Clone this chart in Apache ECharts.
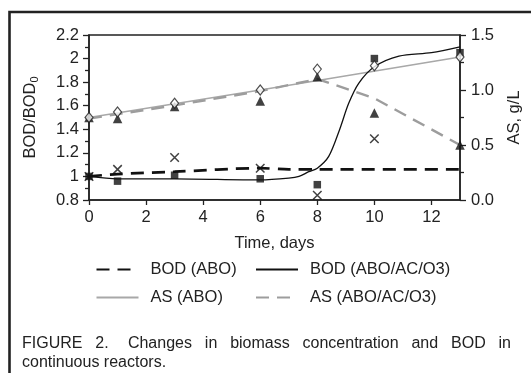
<!DOCTYPE html>
<html>
<head>
<meta charset="utf-8">
<script src="https://cdn.jsdelivr.net/npm/echarts@6/dist/echarts.min.js"></script>
<style>
html,body{margin:0;padding:0;background:#fff;}
#c{width:531px;height:373px;}
</style>
</head>
<body>
<div id="c"></div>
<script>
// ---- data ----
var markDays = [0, 1, 3, 6, 8, 10, 13];
var bodAboMarks = [1.0, 1.06, 1.16, 1.07, 0.84, 1.32, null];     // crosses
var bodAcMarks  = [1.0, 0.96, 1.01, 0.98, 0.93, 2.0, 2.05];       // squares
var asAboMarks  = [0.75, 0.80, 0.88, 1.0, 1.19, 1.22, 1.30];      // open diamonds
var asAcMarks   = [0.75, 0.74, 0.85, 0.90, 1.12, 0.79, 0.50];     // triangles

var bodAboFitDays = [0, 1, 3, 6, 7, 8, 13];
var bodAboFit     = [1.0, 1.02, 1.04, 1.07, 1.06, 1.06, 1.06];
var bodAcFitDays  = [0, 1, 3, 6, 7, 7.36, 7.7, 8, 8.4, 8.77, 9.1, 9.45, 10, 10.86, 12, 13];
var bodAcFit      = [1.0, 0.98, 0.98, 0.97, 0.985, 1.0, 1.04, 1.07, 1.17, 1.39, 1.62, 1.79, 1.93, 2.02, 2.05, 2.10];
var asAboFitDays  = [0, 6, 13];
var asAboFit      = [0.75, 1.0, 1.30];
var asAcFitDays   = [0, 3, 6, 8, 10, 13];
var asAcFit       = [0.74, 0.86, 0.99, 1.10, 0.925, 0.50];

var xTicks = [0, 2, 4, 6, 8, 10, 12];
var captionLine1 = ['FIGURE', '2.', 'Changes', 'in', 'biomass', 'concentration', 'and', 'BOD', 'in'];
var captionLine2 = 'continuous reactors.';

function pairs(xs, ys) { var o = []; for (var i = 0; i < xs.length; i++) { if (ys[i] != null) o.push([xs[i], ys[i]]); } return o; }

var FONT = 'Liberation Sans, Arial, sans-serif';
var TXT = '#222';

// justify caption line 1
var capFont = 16;
var cv = document.createElement('canvas').getContext('2d');
cv.font = capFont + 'px ' + FONT;
var words = captionLine1;
var widths = words.map(function (w) { return cv.measureText(w).width; });
var total = widths.reduce(function (a, b) { return a + b; }, 0);
var x0 = 22, x1 = 511;
var gap = (x1 - x0 - total) / (words.length - 1 + 0.5);
var capEls = [];
var cx = x0;
for (var i = 0; i < words.length; i++) {
  capEls.push({ type: 'text', left: cx, top: 336, style: { text: words[i], font: capFont + 'px ' + FONT, fill: TXT }, silent: true });
  cx += widths[i] + gap * (i === 1 ? 1.5 : 1);
}
capEls.push({ type: 'text', left: x0, top: 355, style: { text: captionLine2, font: capFont + 'px ' + FONT, fill: TXT }, silent: true });
capEls.push({ type: 'rect', shape: { x: 9.5, y: 12, width: 800, height: 800 }, style: { fill: 'none', stroke: '#222', lineWidth: 2.6 }, silent: true });

var chart = echarts.init(document.getElementById('c'), null, { renderer: 'canvas' });

var legendBase = {
  orient: 'horizontal', padding: 0, itemWidth: 42, itemHeight: 14, itemGap: 0,
  itemStyle: { opacity: 0 },
  textStyle: { fontFamily: FONT, fontSize: 16.5, color: TXT, padding: [0, 0, 0, 7] },
  selectedMode: false
};
function lg(name, left, top) { var o = Object.assign({}, legendBase); o.data = [name]; o.left = left; o.top = top; return o; }

var option = {
  animation: false,
  backgroundColor: '#fff',
  textStyle: { fontFamily: FONT },
  grid: { left: 89, right: 69.5, top: 35, bottom: 173, show: true, borderColor: '#222', borderWidth: 1.5, backgroundColor: 'transparent' },
  legend: [
    lg('BOD (ABO)', 95.5, 261),
    lg('BOD (ABO/AC/O3)', 255, 261),
    lg('AS (ABO)', 95.5, 289),
    lg('AS (ABO/AC/O3)', 255, 289)
  ],
  xAxis: {
    type: 'value', min: 0, max: 13, interval: 2,
    name: 'Time, days', nameLocation: 'middle', nameGap: 35,
    nameTextStyle: { fontFamily: FONT, fontSize: 16.5, color: TXT },
    axisLine: { show: true, lineStyle: { color: '#222', width: 1.5 } },
    axisTick: { show: true, inside: false, length: 5, lineStyle: { color: '#222', width: 1.3 } },
    axisLabel: { showMaxLabel: false, margin: 9, fontFamily: FONT, fontSize: 16.5, color: TXT,
      formatter: function (v) { return xTicks.indexOf(v) >= 0 ? String(v) : ''; } },
    splitLine: { show: false }
  },
  yAxis: [
    {
      type: 'value', min: 0.8, max: 2.2, interval: 0.2, position: 'left',
      name: '{a|BOD/BOD}{b|0}', nameLocation: 'middle', nameGap: 49,
      nameTextStyle: { fontFamily: FONT, fontSize: 16.5, color: TXT,
        rich: { a: { fontFamily: FONT, fontSize: 16.5, color: TXT }, b: { fontFamily: FONT, fontSize: 11, color: TXT, padding: [8, 0, 0, 0] } } },
      axisLine: { show: true, lineStyle: { color: '#222', width: 1.5 } },
      axisTick: { show: true, length: 6, lineStyle: { color: '#222', width: 1.3 } },
      minorTick: { show: true, splitNumber: 2, length: 4, lineStyle: { color: '#222', width: 1.3 } },
      axisLabel: { margin: 10, fontFamily: FONT, fontSize: 16.5, color: TXT,
        formatter: function (v) { return String(Math.round(v * 10) / 10); } },
      splitLine: { show: false }
    },
    {
      type: 'value', min: 0, max: 1.5, interval: 0.5, position: 'right',
      name: 'AS, g/L', nameLocation: 'middle', nameGap: 46,
      nameTextStyle: { fontFamily: FONT, fontSize: 16.5, color: TXT },
      axisLine: { show: true, lineStyle: { color: '#222', width: 1.5 } },
      axisTick: { show: true, length: 6, lineStyle: { color: '#222', width: 1.3 } },
      minorTick: { show: true, splitNumber: 2, length: 4, lineStyle: { color: '#222', width: 1.3 } },
      axisLabel: { margin: 11, fontFamily: FONT, fontSize: 16.5, color: TXT,
        formatter: function (v) { return v.toFixed(1); } },
      splitLine: { show: false }
    }
  ],
  series: [
    { name: 'AS (ABO)', type: 'line', yAxisIndex: 1, data: pairs(asAboFitDays, asAboFit), symbol: 'none', showSymbol: false,
      lineStyle: { color: '#a8a8a8', width: 1.5, type: 'solid' }, itemStyle: { color: '#a8a8a8' }, z: 2 },
    { name: 'AS (ABO/AC/O3)', type: 'line', yAxisIndex: 1, data: pairs(asAcFitDays, asAcFit), symbol: 'none', showSymbol: false,
      lineStyle: { color: '#9d9d9d', width: 2.4, type: [13, 8] }, itemStyle: { color: '#9d9d9d' }, z: 2 },
    { name: 'BOD (ABO)', type: 'line', yAxisIndex: 0, data: pairs(bodAboFitDays, bodAboFit), symbol: 'none', showSymbol: false, smooth: 0.3,
      lineStyle: { color: '#111', width: 2.7, type: [13, 8] }, itemStyle: { color: '#111' }, z: 3 },
    { name: 'BOD (ABO/AC/O3)', type: 'line', yAxisIndex: 0, data: pairs(bodAcFitDays, bodAcFit), symbol: 'none', showSymbol: false, smooth: 0.3,
      lineStyle: { color: '#111', width: 1.3, type: 'solid' }, itemStyle: { color: '#111' }, z: 3 },

    { name: 'crosses', type: 'scatter', yAxisIndex: 0, data: pairs(markDays, bodAboMarks),
      symbol: 'path://M0,0L10,10M10,0L0,10', symbolSize: 8.5,
      itemStyle: { color: 'none', borderColor: '#111', borderWidth: 1.5 }, z: 5 },
    { name: 'squares', type: 'scatter', yAxisIndex: 0, data: pairs(markDays, bodAcMarks),
      symbol: 'rect', symbolSize: 7.5, itemStyle: { color: '#111' }, z: 5 },
    { name: 'diamonds', type: 'scatter', yAxisIndex: 1, data: pairs(markDays, asAboMarks),
      symbol: 'diamond', symbolSize: [8, 10], itemStyle: { color: '#fff', borderColor: '#222', borderWidth: 1.2 }, z: 6 },
    { name: 'triangles', type: 'scatter', yAxisIndex: 1, data: pairs(markDays, asAcMarks),
      symbol: 'triangle', symbolSize: [9.5, 9.5], itemStyle: { color: '#111' }, z: 5 }
  ],
  graphic: capEls
};
chart.setOption(option);
</script>
</body>
</html>
